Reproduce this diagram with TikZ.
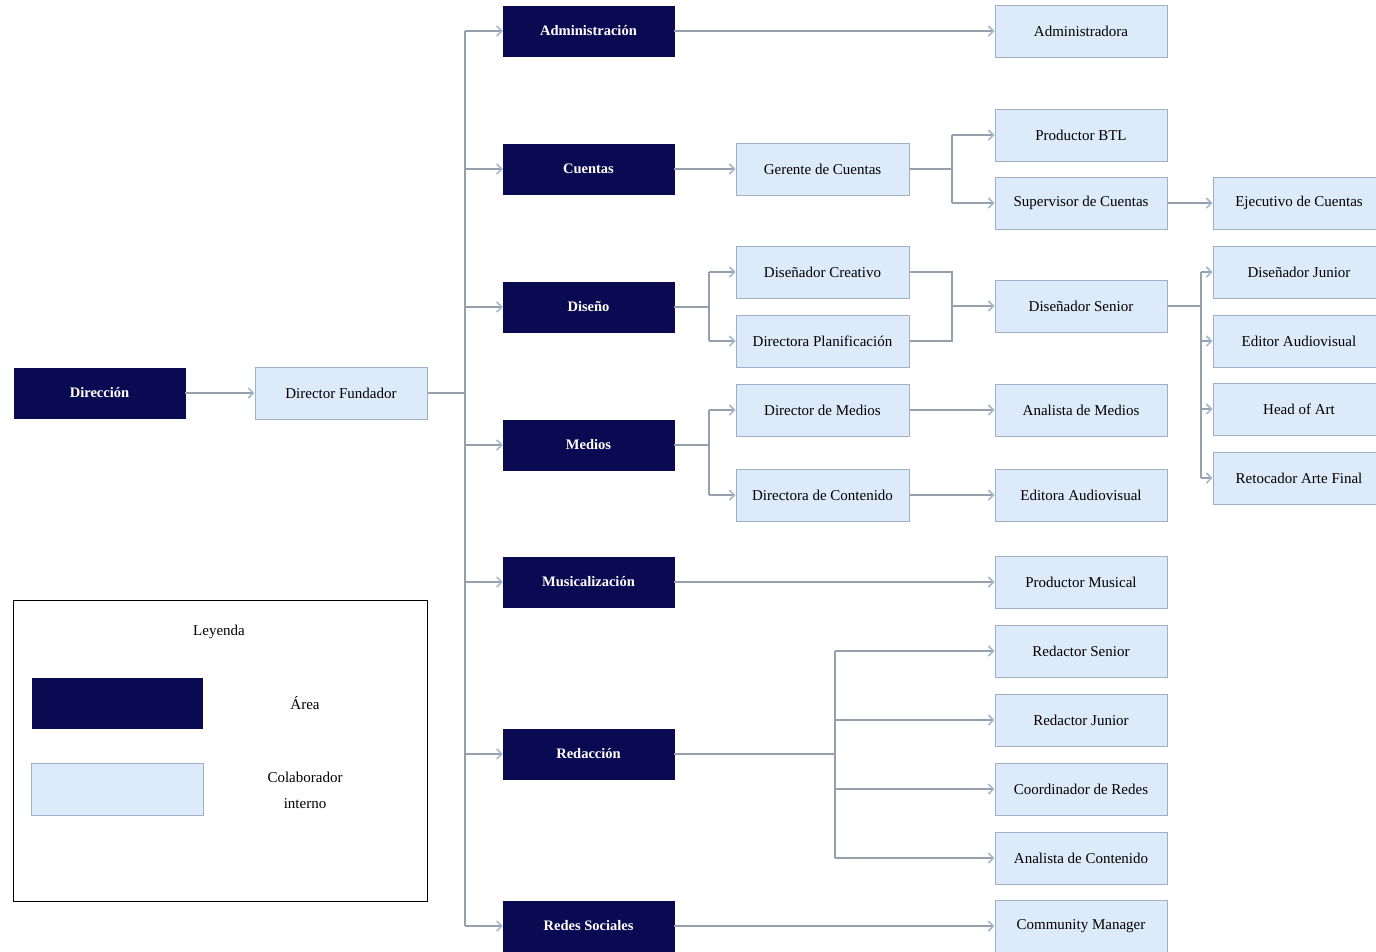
\documentclass[tikz,border=0pt]{standalone}
\usepackage{fontspec}
\setmainfont{Liberation Serif}
\usetikzlibrary{arrows.meta,calc}
\definecolor{navy}{RGB}{10,10,82}
\definecolor{lightfill}{RGB}{221,234,250}
\definecolor{lightborder}{RGB}{160,176,196}
\definecolor{linec}{RGB}{150,160,172}
\definecolor{arrowc}{RGB}{165,185,205}
\tikzset{
  area/.style={fill=navy, draw=navy, text=white, font=\fontsize{14.5}{17}\selectfont\bfseries,
    minimum width=171pt, minimum height=50pt, inner sep=0pt},
  collab/.style={fill=lightfill, draw=lightborder, line width=1pt, text=black,
    font=\fontsize{15}{18}\selectfont, minimum width=172pt, minimum height=52pt, inner sep=0pt},
  ln/.style={draw=linec, line width=1.2pt},
  arr/.style={draw=linec, line width=1.2pt, -{Straight Barb[length=5pt,width=10pt,color=arrowc,line width=1.6pt]}},
  plain/.style={font=\fontsize{15}{26}\selectfont, inner sep=0pt}
}
\begin{document}
\begin{tikzpicture}[x=1pt,y=-1pt]
\useasboundingbox (0,0) rectangle (1376,951);
\clip (0,0) rectangle (1376,951);
\fill[white] (0,0) rectangle (1376,951);

% root
\node[area] (dir) at (99.5,393) {Dirección};
\node[collab] (dfund) at (341,393) {Director Fundador};

% areas
\node[area] (adm) at (588.5,31) {Administración};
\node[area] (cue) at (588.5,169) {Cuentas};
\node[area] (dis) at (588.5,307) {Diseño};
\node[area] (med) at (588.5,445) {Medios};
\node[area] (mus) at (588.5,582) {Musicalización};
\node[area] (red) at (588.5,754) {Redacción};
\node[area] (rs) at (588.5,926) {Redes Sociales};

% column 2
\node[collab, minimum width=173pt] (ger) at (822.5,169) {Gerente de Cuentas};
\node[collab, minimum width=173pt] (dcre) at (822.5,272) {Diseñador Creativo};
\node[collab, minimum width=173pt] (dpla) at (822.5,341) {Directora Planificación};
\node[collab, minimum width=173pt] (dmed) at (822.5,410) {Director de Medios};
\node[collab, minimum width=173pt] (dcon) at (822.5,495) {Directora de Contenido};

% column 3
\node[collab] (admra) at (1081,31) {Administradora};
\node[collab] (pbtl) at (1081,135) {Productor BTL};
\node[collab] (sup) at (1081,203) {Supervisor de Cuentas};
\node[collab] (dsen) at (1081,306) {Diseñador Senior};
\node[collab] (amed) at (1081,410) {Analista de Medios};
\node[collab] (edaud) at (1081,495) {Editora Audiovisual};
\node[collab] (pmus) at (1081,582) {Productor Musical};
\node[collab] (rsen) at (1081,651) {Redactor Senior};
\node[collab] (rjun) at (1081,720) {Redactor Junior};
\node[collab] (coord) at (1081,789) {Coordinador de Redes};
\node[collab] (acon) at (1081,858) {Analista de Contenido};
\node[collab] (cm) at (1081,926) {Community Manager};

% column 4
\node[collab] (eje) at (1299,203) {Ejecutivo de Cuentas};
\node[collab] (djun) at (1299,272) {Diseñador Junior};
\node[collab] (edit) at (1299,341) {Editor Audiovisual};
\node[collab] (head) at (1299,409) {Head of Art};
\node[collab] (ret) at (1299,478) {Retocador Arte Final};

% connectors
\draw[arr] (dir) -- (dfund);
\coordinate (t) at (465,0);
\draw[ln] (dfund.east) -- (t |- dfund.east);
\draw[ln] (t |- adm.west) -- (t |- rs.west);
\foreach \n in {adm,cue,dis,med,mus,red,rs} \draw[arr] (t |- \n.west) -- (\n.west);

\draw[arr] (adm) -- (admra);
\draw[arr] (cue) -- (ger);

\coordinate (g) at (952,0);
\draw[ln] (ger.east) -- (g |- ger.east);
\draw[ln] (g |- pbtl.west) -- (g |- sup.west);
\draw[arr] (g |- pbtl.west) -- (pbtl.west);
\draw[arr] (g |- sup.west) -- (sup.west);
\draw[arr] (sup) -- (eje);

\coordinate (d) at (709,0);
\draw[ln] (dis.east) -- (d |- dis.east);
\draw[ln] (d |- dcre.west) -- (d |- dpla.west);
\draw[arr] (d |- dcre.west) -- (dcre.west);
\draw[arr] (d |- dpla.west) -- (dpla.west);

\coordinate (e) at (952,0);
\draw[ln] (dcre.east) -- (e |- dcre.east) -- (e |- dpla.east) -- (dpla.east);
\draw[arr] (e |- dsen.west) -- (dsen.west);

\coordinate (s) at (1201,0);
\draw[ln] (dsen.east) -- (s |- dsen.east);
\draw[ln] (s |- djun.west) -- (s |- ret.west);
\foreach \n in {djun,edit,head,ret} \draw[arr] (s |- \n.west) -- (\n.west);

\draw[ln] (med.east) -- (d |- med.east);
\draw[ln] (d |- dmed.west) -- (d |- dcon.west);
\draw[arr] (d |- dmed.west) -- (dmed.west);
\draw[arr] (d |- dcon.west) -- (dcon.west);
\draw[arr] (dmed) -- (amed);
\draw[arr] (dcon) -- (edaud);
\draw[arr] (mus) -- (pmus);

\coordinate (r) at (835,0);
\draw[ln] (red.east) -- (r |- red.east);
\draw[ln] (r |- rsen.west) -- (r |- acon.west);
\foreach \n in {rsen,rjun,coord,acon} \draw[arr] (r |- \n.west) -- (\n.west);
\draw[arr] (rs) -- (cm);

% legend
\node[draw=black, line width=1.3pt, minimum width=414pt, minimum height=301pt, anchor=north west, inner sep=0pt] (leg) at (13,600) {};
\node[plain] (legt) at (219,632) {Leyenda};
\node[area, minimum width=170pt] (lga) at (117,703) {};
\node[plain] (lgat) at (305,703) {Área};
\node[collab] (lgc) at (117,789) {};
\node[plain, align=center] (lgct) at (305,790) {Colaborador\\interno};
\end{tikzpicture}
\end{document}
